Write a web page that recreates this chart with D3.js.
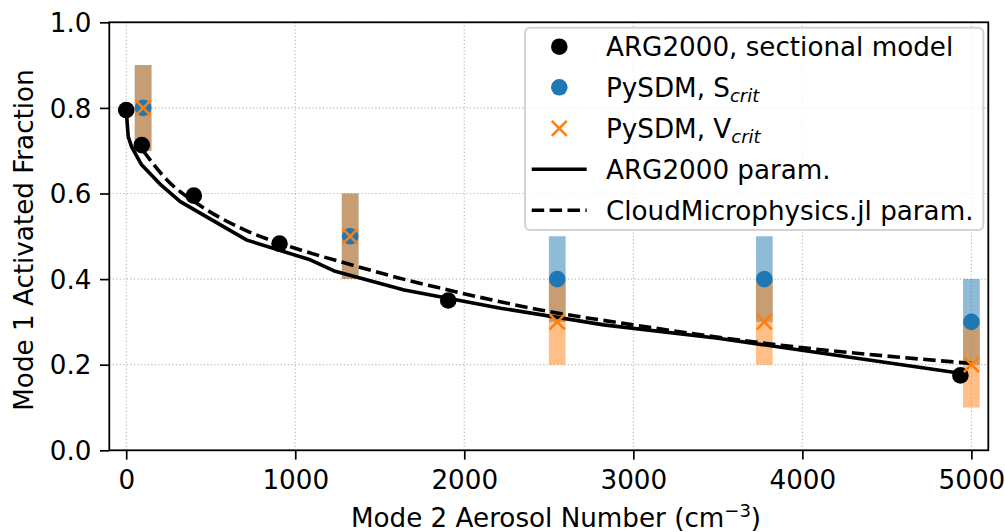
<!DOCTYPE html>
<html>
<head>
<meta charset="utf-8">
<script src="https://cdnjs.cloudflare.com/ajax/libs/d3/7.8.5/d3.min.js"></script>
<style>
    html, body { margin: 0; padding: 0; background: #fff; }
    svg { display: block; font-family: "DejaVu Sans", sans-serif; }
</style>
</head>
<body>
<svg id="chart" width="1005" height="532"></svg>
<script>

/*=============== DATA ============*/

var sectionalX = [0, 92, 400, 907, 1905, 4935];
var sectionalY = [0.795, 0.713, 0.595, 0.483, 0.350, 0.175];

var pysdmX = [100, 1325, 2550, 3775, 5000];
var sCrit = [0.8, 0.5, 0.4, 0.4, 0.3];
var vCrit = [0.8, 0.5, 0.3, 0.3, 0.2];
var sCritErr = [0.1, 0.1, 0.1, 0.1, 0.1];
var vCritErr = [0.1, 0.1, 0.1, 0.1, 0.1];

var argParamX = [0, 12, 32, 91, 200, 320, 714, 1089, 1230, 1645, 2215, 2825, 3500, 4200, 4935];
var argParamY = [0.795, 0.733, 0.709, 0.667, 0.622, 0.581, 0.491, 0.445, 0.419, 0.3745, 0.332, 0.293, 0.262, 0.222, 0.180];

var cmParamX = [100, 250, 417, 700, 1000, 1300, 1600, 1900, 2450, 3000, 3800, 5000];
var cmParamY = [0.70, 0.628, 0.577, 0.515, 0.472, 0.437, 0.404, 0.375, 0.328, 0.293, 0.249, 0.203];

var xTicks = [0, 1000, 2000, 3000, 4000, 5000];
var yTicks = [0, 0.2, 0.4, 0.6, 0.8, 1.0];

var legendLabels = ['ARG2000, sectional model', 'PySDM, S', 'PySDM, V', 'ARG2000 param.', 'CloudMicrophysics.jl param.'];

/*=============== LAYOUT ============*/

var margin = {left: 109.3, top: 22.3, right: 16.7, bottom: 81.7};
var width = 1005 - margin.left - margin.right;
var height = 532 - margin.top - margin.bottom;

var blue = '#1f77b4';
var orange = '#ff7f0e';
var fontSize = 26.2;
var lineW = 3.6;
var dashes = '12.5,5.4';

var zip = function (xs, ys) {
    return xs.map(function (x, i) {
        return {x: x, y: ys[i]};
    });
};

var svg = d3.select('#chart');
var g = svg.append('g').attr('transform', 'translate(' + margin.left + ',' + margin.top + ')');

var x = d3.scaleLinear().domain([-100, 5100]).range([0, width]);
var y = d3.scaleLinear().domain([0, 1]).range([height, 0]);

/*=============== GRID ============*/

var grid = g.append('g').attr('class', 'grid')
    .attr('stroke', '#bdbdbd')
    .attr('stroke-width', 1.2)
    .attr('stroke-dasharray', '1.3,2.2');

grid.selectAll('line.gx').data(xTicks).enter().append('line')
    .attr('class', 'gx')
    .attr('x1', function (d) { return x(d); })
    .attr('x2', function (d) { return x(d); })
    .attr('y1', 0)
    .attr('y2', height);

grid.selectAll('line.gy').data(yTicks).enter().append('line')
    .attr('class', 'gy')
    .attr('x1', 0)
    .attr('x2', width)
    .attr('y1', function (d) { return y(d); })
    .attr('y2', function (d) { return y(d); });

/*=============== ERROR BARS ============*/

var barWidth = 16.7;

g.selectAll('line.sbar').data(pysdmX).enter().append('line')
    .attr('class', 'sbar')
    .attr('x1', function (d) { return x(d); })
    .attr('x2', function (d) { return x(d); })
    .attr('y1', function (d, i) { return y(sCrit[i] - sCritErr[i]); })
    .attr('y2', function (d, i) { return y(sCrit[i] + sCritErr[i]); })
    .attr('stroke', blue)
    .attr('stroke-opacity', 0.5)
    .attr('stroke-width', barWidth);

g.selectAll('line.vbar').data(pysdmX).enter().append('line')
    .attr('class', 'vbar')
    .attr('x1', function (d) { return x(d); })
    .attr('x2', function (d) { return x(d); })
    .attr('y1', function (d, i) { return y(vCrit[i] - vCritErr[i]); })
    .attr('y2', function (d, i) { return y(vCrit[i] + vCritErr[i]); })
    .attr('stroke', orange)
    .attr('stroke-opacity', 0.5)
    .attr('stroke-width', barWidth);

/*=============== LINES ============*/

var line = d3.line()
    .x(function (d) { return x(d.x); })
    .y(function (d) { return y(d.y); });

g.append('path')
    .datum(zip(argParamX, argParamY))
    .attr('d', line)
    .attr('fill', 'none')
    .attr('stroke', '#000')
    .attr('stroke-width', lineW)
    .attr('stroke-linejoin', 'round');

g.append('path')
    .datum(zip(cmParamX, cmParamY))
    .attr('d', line.curve(d3.curveMonotoneX))
    .attr('fill', 'none')
    .attr('stroke', '#000')
    .attr('stroke-width', lineW)
    .attr('stroke-dasharray', dashes);

/*=============== MARKERS ============*/

var markerR = 8.3;

g.selectAll('circle.sect').data(zip(sectionalX, sectionalY)).enter().append('circle')
    .attr('class', 'sect')
    .attr('cx', function (d) { return x(d.x); })
    .attr('cy', function (d) { return y(d.y); })
    .attr('r', markerR)
    .attr('fill', '#000');

g.selectAll('circle.scrit').data(zip(pysdmX, sCrit)).enter().append('circle')
    .attr('class', 'scrit')
    .attr('cx', function (d) { return x(d.x); })
    .attr('cy', function (d) { return y(d.y); })
    .attr('r', markerR)
    .attr('fill', blue);

var crossPath = function (cx, cy, s) {
    return 'M' + (cx - s) + ',' + (cy - s) + 'L' + (cx + s) + ',' + (cy + s) +
        'M' + (cx - s) + ',' + (cy + s) + 'L' + (cx + s) + ',' + (cy - s);
};

g.selectAll('path.vcrit').data(zip(pysdmX, vCrit)).enter().append('path')
    .attr('class', 'vcrit')
    .attr('d', function (d) { return crossPath(x(d.x), y(d.y), 7.5); })
    .attr('stroke', orange)
    .attr('stroke-width', 2.6)
    .attr('fill', 'none');

/*=============== AXES ============*/

var xAxis = g.append('g')
    .attr('transform', 'translate(0,' + height + ')')
    .call(d3.axisBottom(x).tickValues(xTicks).tickSize(9.3).tickPadding(4).tickFormat(d3.format('d')));

var yAxis = g.append('g')
    .call(d3.axisLeft(y).tickValues(yTicks).tickSize(9.3).tickPadding(8).tickFormat(d3.format('.1f')));

[xAxis, yAxis].forEach(function (ax) {
    ax.select('.domain').remove();
    ax.selectAll('.tick line').attr('stroke', '#000').attr('stroke-width', 1.7);
    ax.selectAll('.tick text')
        .attr('fill', '#000')
        .style('font-family', '"DejaVu Sans", sans-serif')
        .style('font-size', fontSize + 'px');
});

xAxis.selectAll('.tick text').attr('dy', null).attr('y', 39);
yAxis.selectAll('.tick text').attr('dy', null).attr('y', 9.2).attr('x', -17.8);

g.append('rect')
    .attr('width', width)
    .attr('height', height)
    .attr('fill', 'none')
    .attr('stroke', '#000')
    .attr('stroke-width', 1.8);

/*=============== AXIS LABELS ============*/

svg.append('text')
    .attr('transform', 'translate(33.3,240) rotate(-90)')
    .attr('text-anchor', 'middle')
    .style('font-size', fontSize + 'px')
    .text('Mode 1 Activated Fraction');

var xl = svg.append('text')
    .attr('x', 556)
    .attr('y', 527.3)
    .attr('text-anchor', 'middle')
    .style('font-size', fontSize + 'px');
xl.append('tspan').text('Mode 2 Aerosol Number (cm');
xl.append('tspan').attr('dy', -10).style('font-size', '18px').text('\u22123');
xl.append('tspan').attr('dy', 10).text(')');

/*=============== LEGEND ============*/

var legend = svg.append('g').attr('class', 'legend');

legend.append('rect')
    .attr('x', 525)
    .attr('y', 27.7)
    .attr('width', 458.3)
    .attr('height', 202.3)
    .attr('rx', 5)
    .attr('fill', '#fff')
    .attr('fill-opacity', 0.8)
    .attr('stroke', '#d4d4d4')
    .attr('stroke-width', 2);

var rowY = [46.7, 87.3, 128.3, 169.3, 210.3];
var handleX = 559.3;

legend.append('circle').attr('cx', handleX).attr('cy', rowY[0]).attr('r', markerR).attr('fill', '#000');
legend.append('circle').attr('cx', handleX).attr('cy', rowY[1]).attr('r', markerR).attr('fill', blue);
legend.append('path')
    .attr('d', crossPath(handleX, rowY[2], 7.5))
    .attr('stroke', orange)
    .attr('stroke-width', 2.6);
legend.append('line')
    .attr('x1', 531.7).attr('x2', 586.7)
    .attr('y1', rowY[3]).attr('y2', rowY[3])
    .attr('stroke', '#000').attr('stroke-width', lineW);
legend.append('line')
    .attr('x1', 531.7).attr('x2', 586.7)
    .attr('y1', rowY[4]).attr('y2', rowY[4])
    .attr('stroke', '#000').attr('stroke-width', lineW)
    .attr('stroke-dasharray', dashes);

legendLabels.forEach(function (label, i) {
    var t = legend.append('text')
        .attr('x', 606)
        .attr('y', rowY[i] + 9.4)
        .style('font-size', fontSize + 'px');
    t.append('tspan').text(label);
    if (i === 1 || i === 2) {
        t.append('tspan')
            .attr('dy', 5)
            .style('font-size', '18px')
            .style('font-style', 'italic')
            .text('crit');
    }
});

</script>
</body>
</html>
